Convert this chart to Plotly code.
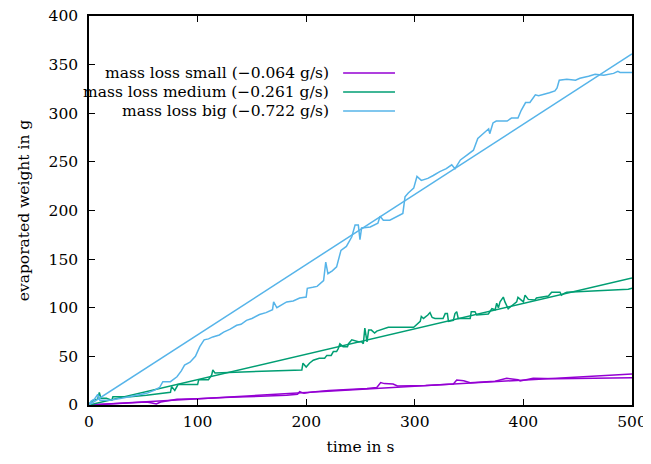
import plotly.graph_objects as go

# ---- data ----
small_t = [0, 20, 40, 53, 58, 62, 66, 81, 100, 114, 130, 145, 165, 182, 192, 194, 198, 206, 221, 237, 250,
           256, 265, 268.6, 272, 280, 284, 292.5, 310, 335.5, 338.6, 345, 351, 366, 374, 384.6, 395, 397,
           409, 430, 460, 500]
small_v = [0, 1, 2, 3, 2, 1, 3, 6, 6.5, 7.5, 8, 8.5, 9, 10, 11, 13.7, 12, 13.5, 15, 15.7, 17,
           17, 18, 23, 22, 21.6, 19.5, 19.5, 20, 21.6, 25.7, 25, 23, 24, 24.5, 27.4, 26, 24.7,
           27.4, 27, 27.5, 28]

medium_t = [0, 1, 4, 8, 9.5, 11, 16, 21, 22, 38, 53, 67, 75, 76, 79, 82, 93, 100, 101, 110, 113, 114,
            116, 196, 197, 200, 203, 206.5, 212, 217, 219, 223, 225, 228, 229.5, 231, 234, 238, 239,
            242, 248, 251, 252.6, 254, 256, 257.5, 260, 263, 265, 274, 275.6, 299, 305, 306, 308, 312,
            314, 316, 318.6, 326, 328, 330, 331, 335.5, 337, 338.6, 340, 351, 352, 355.4, 357, 367.7,
            371, 374, 375.4, 377, 378.5, 381.5, 383, 386, 390, 393.8, 395, 400, 401.5, 404.5, 410.7,
            412, 423, 426, 433.7, 435, 438, 440, 496.6, 500]
medium_v = [0, 2, 5, 6, 13, 7, 7, 5, 8.5, 8.5, 10, 12, 13, 19, 15, 21, 21, 21, 26, 26, 31, 36,
            33, 36, 43, 39, 43, 46, 48, 48, 51, 51, 55, 55, 58, 63, 60, 60, 63,
            67, 65, 65, 63, 79, 65, 77, 77, 74, 76, 79, 80, 80, 86, 91, 89, 92.5,
            95, 90, 89, 89, 94, 94, 86, 87, 94, 96, 89, 89, 96, 96, 92.5, 93.6,
            99, 98, 104.6, 100, 106, 111, 106, 99, 103, 106, 110.7, 106, 113, 108.6, 108,
            110, 112, 116, 116, 113, 115, 116, 119, 120]

big_t = [0, 2, 5, 8, 10, 19, 30, 45, 53, 60, 65, 68, 75, 81, 85, 88, 93, 98, 102, 106, 110, 114, 120,
         124, 130, 136, 140, 145, 150, 157, 163, 169, 170, 173, 178, 182, 188, 194, 200, 201, 206, 210,
         216, 218, 220, 224, 228, 232, 237, 242, 245, 248, 249.5, 251, 259, 266, 268, 271, 277, 285,
         289, 291, 294, 299, 302, 306, 312, 317, 323, 329, 334, 337, 342, 348, 354, 358, 362, 365,
         368, 369, 372, 375, 385, 389, 395, 398, 402, 406, 411, 414, 418, 424, 429, 431, 433, 440,
         448, 452, 460, 466, 474, 483, 487, 489, 500]
big_v = [0, 4, 6, 11, 5, 5, 7, 10, 12, 15, 18, 24, 24, 29, 35, 41, 44, 50, 60, 67, 68, 70, 72,
         75, 78, 82, 83, 87, 89, 93, 95, 98, 106, 100, 103, 106, 107, 110, 111, 120, 121, 122,
         128, 147, 135, 138, 142, 159, 163, 173, 185, 185, 170, 182, 183, 187, 194, 190, 190, 195,
         197, 214, 218, 223, 235, 231, 233, 236, 240, 243, 247, 243, 252, 257, 262, 274, 278, 281,
         284, 279, 290, 292, 292, 295, 295, 303, 311, 311, 319, 318, 319, 321, 323, 326, 334, 335,
         334, 336, 338, 340, 339, 341, 343, 342, 342]

rates = [0.064, 0.261, 0.722]          # fitted mass loss rates in g/s
names = ["mass loss small", "mass loss medium", "mass loss big"]
colors = ["#9400d3", "#009e73", "#56b4e9"]
fit_t = [0, 500]

series = [(small_t, small_v), (medium_t, medium_v), (big_t, big_v)]

FONT = "DejaVu Serif"
TXT = dict(family=FONT, size=15.5, color="black")

fig = go.Figure()
for (t, v), r, c, n in zip(series, rates, colors, names):
    fig.add_trace(go.Scatter(x=t, y=v, mode="lines", line=dict(color=c, width=1.5),
                             name=n, showlegend=False))
    fig.add_trace(go.Scatter(x=fit_t, y=[r * tt for tt in fit_t], mode="lines",
                             line=dict(color=c, width=1.5), showlegend=False))

# gnuplot-style key: right-aligned text with line sample to its right
key_y = [0.8535, 0.8046, 0.7558]
for n, r, c, ky in zip(names, rates, colors, key_y):
    fig.add_annotation(x=0.4457, y=ky, xref="paper", yref="paper", xanchor="right", yanchor="middle",
                       text=f"{n} (\u2212{r:.3f} g/s)", showarrow=False, font=TXT)
    fig.add_shape(type="line", xref="paper", yref="paper", x0=0.468, x1=0.5635, y0=ky, y1=ky,
                  line=dict(color=c, width=1.5))

axis_common = dict(showgrid=False, zeroline=False, showline=True, linecolor="black", linewidth=1.5,
                   mirror="allticks", ticks="inside", ticklen=6, tickwidth=1, tickcolor="black",
                   automargin=False, ticklabeloverflow="allow", tickfont=TXT)

fig.update_xaxes(range=[0, 500], dtick=100, title=dict(text="time in s", font=TXT),
                 ticklabelstandoff=2, **axis_common)
fig.update_yaxes(range=[0, 400], dtick=50, title=dict(text="evaporated weight in g", font=TXT),
                 ticklabelstandoff=6, **axis_common)

fig.update_layout(width=637, height=448, margin=dict(l=81, r=13, t=8, b=51),
                  plot_bgcolor="white", paper_bgcolor="white", showlegend=False)

fig.write_html("out.html")
